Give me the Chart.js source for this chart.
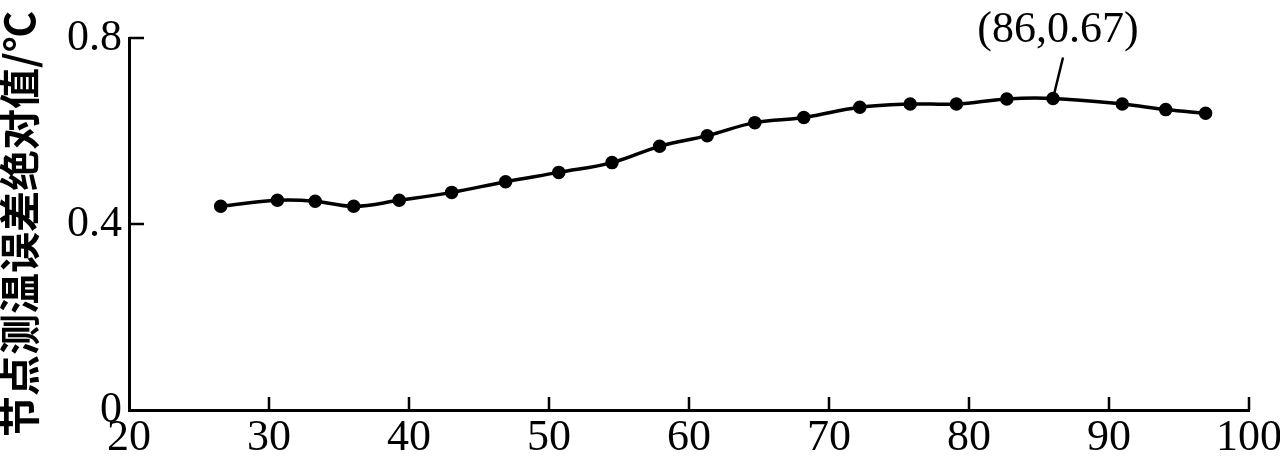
<!DOCTYPE html>
<html>
<head>
<meta charset="utf-8">
<script src="https://cdn.jsdelivr.net/npm/chart.js@4.4.1/dist/chart.umd.min.js"></script>
<style>
  html, body { margin: 0; padding: 0; background: #fff; }
  #wrap { width: 1280px; height: 460px; }
</style>
</head>
<body>
<div id="wrap"><canvas id="c" width="1280" height="460"></canvas></div>
<script>
// data
const xValues = [26.55, 30.6, 33.3, 36.05, 39.3, 43.05, 46.9, 50.7, 54.5, 57.9, 61.3,
                 64.7, 68.2, 72.2, 75.8, 79.1, 82.7, 86, 90.95, 94.05, 96.9];
const yValues = [0.438, 0.451, 0.449, 0.438, 0.451, 0.468, 0.491, 0.511, 0.532, 0.567, 0.590,
                 0.618, 0.629, 0.651, 0.658, 0.658, 0.669, 0.67, 0.658, 0.646, 0.638];
const xTicks = [20, 30, 40, 50, 60, 70, 80, 90, 100];
const yTicks = [0, 0.4, 0.8];
const peakPoint = { x: 86, y: 0.67, label: '(86,0.67)' };
const yTitle = '节点测温误差绝对值/℃';

const serif = "'Liberation Serif', 'Times New Roman', serif";

// inward ticks + peak annotation
const axisTicks = {
  id: 'axisTicks',
  afterDatasetsDraw(chart) {
    const ctx = chart.ctx;
    const xs = chart.scales.x, ys = chart.scales.y;
    const area = chart.chartArea;
    ctx.save();
    ctx.strokeStyle = '#000';
    ctx.lineWidth = 2.5;
    ctx.beginPath();
    xTicks.forEach(v => {
      if (v === xs.min) return;
      const px = xs.getPixelForValue(v);
      ctx.moveTo(px, area.bottom);
      ctx.lineTo(px, area.bottom - 13);
    });
    yTicks.forEach(v => {
      if (v === ys.min) return;
      const py = ys.getPixelForValue(v);
      ctx.moveTo(area.left, py);
      ctx.lineTo(area.left + 15, py);
    });
    ctx.stroke();

    // leader line + label
    const px = xs.getPixelForValue(peakPoint.x);
    const py = ys.getPixelForValue(peakPoint.y);
    ctx.lineWidth = 2.5;
    ctx.beginPath();
    ctx.moveTo(px, py);
    ctx.lineTo(px + 10, py - 41);
    ctx.stroke();
    ctx.fillStyle = '#000';
    ctx.font = '44px ' + serif;
    ctx.textAlign = 'center';
    ctx.textBaseline = 'middle';
    ctx.fillText(peakPoint.label, px + 5, py - 68);
    ctx.restore();
  }
};

new Chart(document.getElementById('c'), {
  type: 'line',
  data: {
    datasets: [{
      data: xValues.map((x, i) => ({ x, y: yValues[i] })),
      borderColor: '#000',
      backgroundColor: '#000',
      borderWidth: 3.5,
      pointRadius: 5,
      pointHoverRadius: 5,
      tension: 0.4,
      fill: false
    }]
  },
  options: {
    responsive: false,
    animation: false,
    layout: { padding: { top: 38, right: 31, left: 0, bottom: 0 } },
    plugins: { legend: { display: false }, tooltip: { enabled: false } },
    scales: {
      x: {
        type: 'linear',
        min: 20,
        max: 100,
        afterBuildTicks: s => { s.ticks = xTicks.map(v => ({ value: v })); },
        afterFit: s => { s.height = 50; s.paddingLeft = 0; s.paddingRight = 0; },
        grid: { display: false, drawTicks: false },
        border: { display: true, color: '#000', width: 3 },
        ticks: {
          color: '#000',
          padding: 6,
          maxRotation: 0,
          font: { family: serif, size: 44, lineHeight: 1.0 }
        }
      },
      y: {
        min: 0,
        max: 0.8,
        afterBuildTicks: s => { s.ticks = yTicks.map(v => ({ value: v })); },
        afterFit: s => { s.width = 129; s.paddingTop = 0; s.paddingBottom = 0; },
        grid: { display: false, drawTicks: false },
        border: { display: true, color: '#000', width: 3 },
        ticks: {
          color: '#000',
          padding: 7,
          callback: v => String(v),
          font: { family: serif, size: 44 }
        },
        title: {
          display: true,
          text: yTitle,
          color: '#000',
          padding: { top: 0, bottom: 0 },
          font: { family: "'Noto Sans CJK SC', sans-serif", size: 41, weight: 'bold', lineHeight: 0.95 }
        }
      }
    }
  },
  plugins: [axisTicks]
});
</script>
</body>
</html>
